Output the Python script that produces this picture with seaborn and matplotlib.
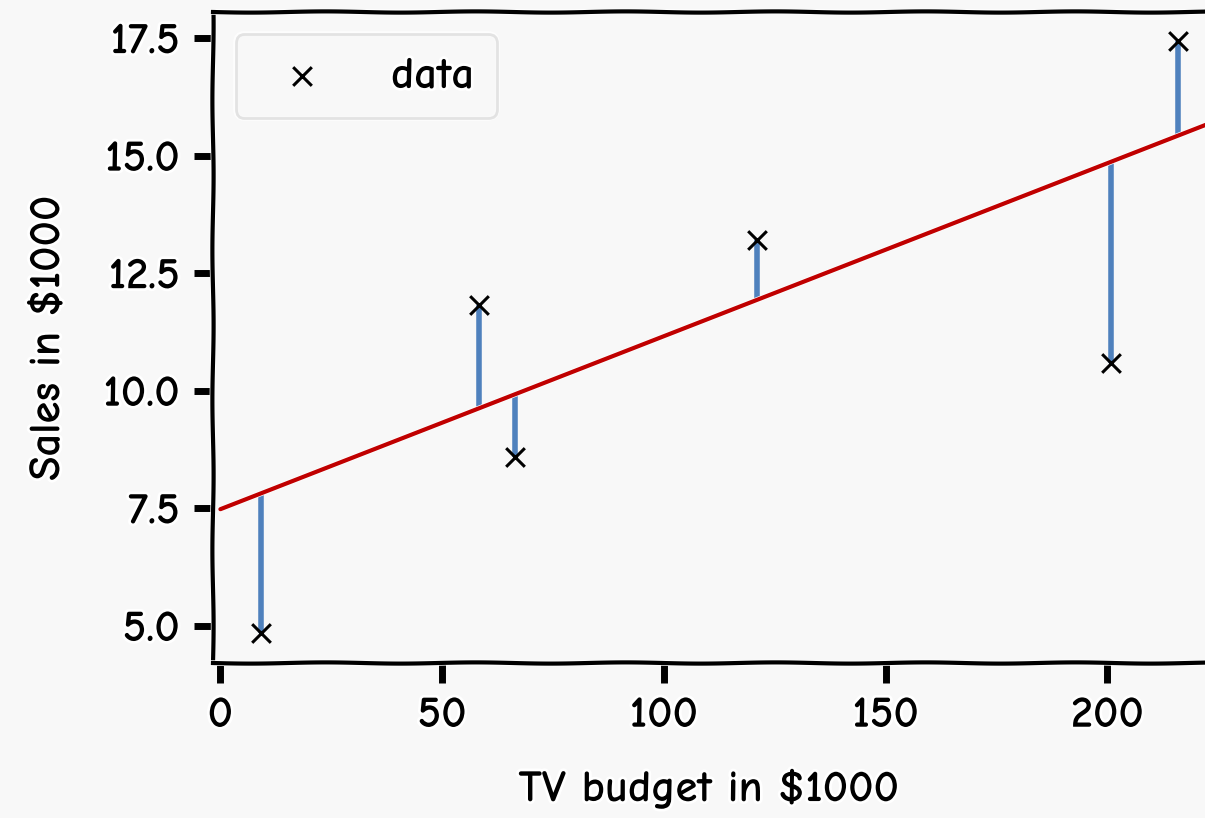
import numpy as np
import pandas as pd
import matplotlib.pyplot as plt
import matplotlib.patheffects as pe
import seaborn as sns

tv_budget = [9.2, 58.4, 66.5, 121.0, 200.9, 215.8]
sales = [4.85, 11.83, 8.6, 13.21, 10.6, 17.44]
fit_intercept = 7.48
fit_slope = 0.0368
fit_x = [0, 230]

sns.set_theme(style="ticks")
plt.rcParams["font.family"] = ["Comic Neue", "Lato", "DejaVu Sans"]
plt.rcParams["font.weight"] = "bold"
plt.rcParams["axes.labelweight"] = "bold"
plt.rcParams["text.color"] = "black"
plt.rcParams["xtick.labelcolor"] = "black"
plt.rcParams["ytick.labelcolor"] = "black"
plt.rcParams["axes.labelcolor"] = "black"
plt.rcParams["path.effects"] = [pe.withStroke(linewidth=4, foreground="white")]

df = pd.DataFrame({"tv": tv_budget, "sales": sales})
fit_df = pd.DataFrame({"tv": fit_x, "sales": [fit_intercept + fit_slope * v for v in fit_x]})
pred = [fit_intercept + fit_slope * v for v in tv_budget]

fig = plt.figure(figsize=(12.05, 8.18), dpi=100, facecolor="#f8f8f8")
ax = fig.add_axes([0.177, 0.189, 0.823, 0.796])
ax.set_facecolor("#f8f8f8")

ax.vlines(tv_budget, pred, sales, color="#4f81bd", linewidth=4, zorder=2)
sns.lineplot(data=fit_df, x="tv", y="sales", color="#c00000", linewidth=3, ax=ax, zorder=3)
sns.scatterplot(data=df, x="tv", y="sales", marker="x", color="black", s=180,
                linewidth=2.2, ax=ax, zorder=4, label="data")

ax.set_xlim(-1.6, 222)
ax.set_ylim(4.2, 18.05)
ax.set_xticks([0, 50, 100, 150, 200])
ax.set_yticks([5.0, 7.5, 10.0, 12.5, 15.0, 17.5])
ax.set_yticklabels(["5.0", "7.5", "10.0", "12.5", "15.0", "17.5"])
ax.tick_params(axis="both", labelsize=32, width=5, length=14, pad=10, color="black")
ax.set_xlabel("TV budget in $1000", fontsize=32, labelpad=24)
ax.set_ylabel("Sales in $1000", fontsize=32, labelpad=26)

for name in ["left", "top", "bottom"]:
    ax.spines[name].set_linewidth(3)
    ax.spines[name].set_color("black")
    ax.spines[name].set_sketch_params(0.6, 150, 1)
ax.spines["right"].set_visible(False)

leg = ax.legend(loc="upper left", fontsize=32, frameon=True, fancybox=True,
                borderpad=0.5, handletextpad=1.0, markerscale=1.0)
leg.get_frame().set_edgecolor("#dddddd")
leg.get_frame().set_linewidth(2)
leg.get_frame().set_facecolor("#f8f8f8")

fig.savefig("out.png", dpi=100, facecolor=fig.get_facecolor())
